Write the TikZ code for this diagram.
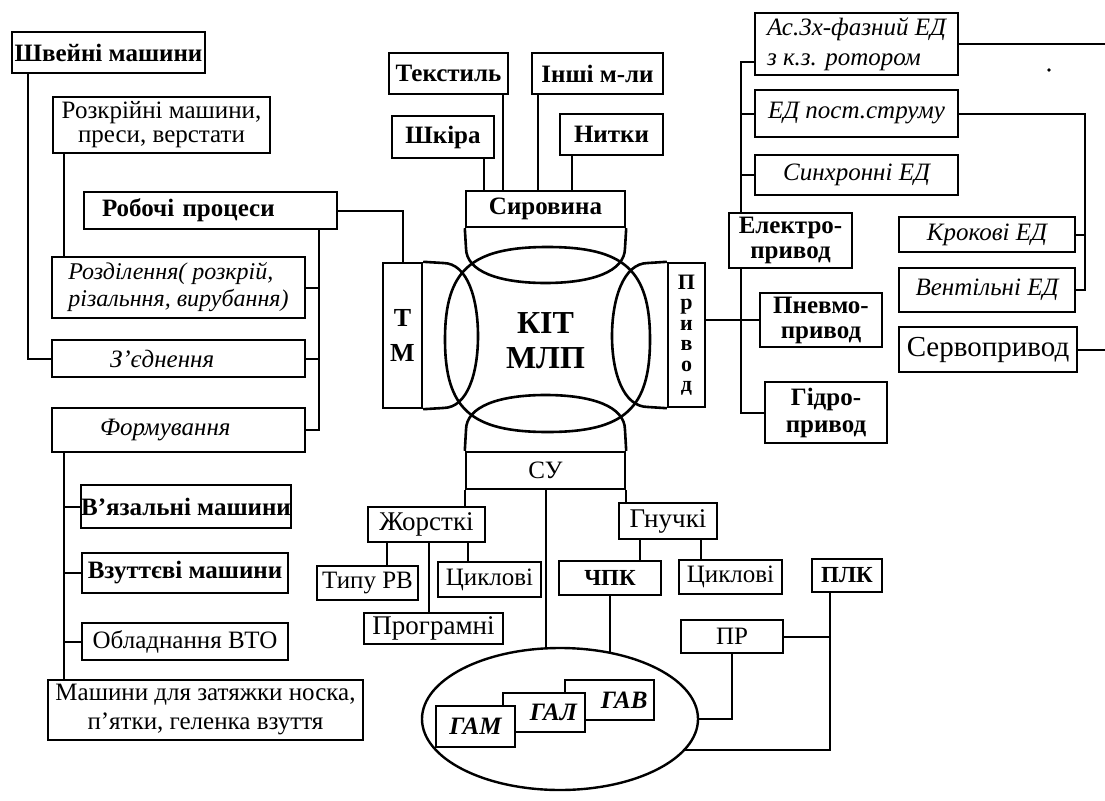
\documentclass[tikz,border=0pt]{standalone}
\usepackage{fontspec}
\setmainfont{Liberation Serif}
\usetikzlibrary{shapes.geometric}
\newcommand\fsz[1]{\fontsize{#1}{#1}\selectfont}

\begin{document}
\begin{tikzpicture}[x=1pt, y=-1pt, line width=2pt,
    box/.style={draw, line width=2.4pt, fill=white, inner sep=0pt, align=center},
    wh/.style 2 args={minimum width=#1pt, minimum height=#2pt},
    rbox/.style={box, font=\fsz{25}},
    bbox/.style={box, font=\fsz{25}\bfseries},
    ibox/.style={box, font=\fsz{25}\itshape},
    gbox/.style={box, font=\fsz{25}\bfseries\itshape}]
\useasboundingbox (0,0) rectangle (1105,800);

\node[bbox, wh={193}{41}] (shvei) at (108.5,52.5) {Швейні машини};
\node[rbox, wh={217}{56}, font=\fontsize{25}{24}\selectfont] (rozkr) at (161.5,125) {Розкрійні машини,\\преси, верстати};
\node[bbox, wh={253}{37}, text width=217pt, align=left] (robochi) at (210.5,210.5) {Робочі процеси};
\node[ibox, wh={253}{61}, align=left, font=\fontsize{24}{27}\selectfont\itshape] (rozdil) at (178.5,287.5) {Розділення( розкрій,\\різальння, вирубання)};
\node[ibox, wh={253}{37}, text width=137pt, align=left] (zyed) at (178.5,358.5) {З'єднення};
\node[ibox, wh={253}{44}, text width=157pt, align=left] (formuv) at (178.5,430) {Формування};
\node[bbox, wh={208}{43}] (vyaz) at (186,506.5) {В'язальні машини};
\node[bbox, wh={206}{40}] (vzut) at (185,573) {Взуттєві машини};
\node[rbox, wh={206}{37}] (vto) at (185,641.5) {Обладнання ВТО};
\node[rbox, wh={315}{60}, font=\fontsize{25}{29}\selectfont] (mash) at (205.5,710) {Машини для затяжки носка,\\п'ятки, геленка взуття};

\node[bbox, wh={119}{41}] (tekst) at (448.5,73.5) {Текстиль};
\node[bbox, wh={131}{41}] (inshi) at (597.5,73.5) {Інші м-ли};
\node[bbox, wh={102}{42}] (shkira) at (443,137) {Шкіра};
\node[bbox, wh={103}{41}] (nytky) at (611.5,134.5) {Нитки};
\node[bbox, wh={159}{36}] (syrov) at (545.5,209) {Сировина};

\node[bbox, wh={39}{145}, font=\fontsize{26}{35}\selectfont\bfseries] (tm) at (402.5,335.5) {Т\\М};
\node[bbox, wh={37}{144}, font=\fontsize{22}{20.5}\selectfont\bfseries] (pryvod) at (686.5,335) {П\\р\\и\\в\\о\\д};
\node[rbox, wh={159}{37}] (su) at (545.5,470.5) {СУ};
\node[font=\fontsize{32}{35}\selectfont\bfseries, align=center] (kit) at (545.5,341) {КІТ\\МЛП};

\node[ibox, wh={203}{62}, align=left, font=\fontsize{25}{30}\selectfont\itshape] (as3x) at (856.5,44) {Ас.3х-фазний ЕД\\з к.з. ротором};
\node[ibox, wh={203}{47}] (edpost) at (856.5,113.5) {ЕД пост.струму};
\node[ibox, wh={203}{40}] (synhr) at (856.5,175) {Синхронні ЕД};
\node[bbox, wh={123}{55}, font=\fontsize{25}{25}\selectfont\bfseries] (elektro) at (790.5,240.5) {Електро-\\привод};
\node[bbox, wh={122}{54}, font=\fontsize{25}{25}\selectfont\bfseries] (pnevmo) at (821,320) {Пневмо-\\привод};
\node[bbox, wh={122}{61}, font=\fontsize{25}{27}\selectfont\bfseries] (gidro) at (826,412.5) {Гідро-\\привод};
\node[ibox, wh={176}{35}] (krok) at (987,234.5) {Крокові ЕД};
\node[ibox, wh={176}{44}] (vent) at (987,290) {Вентільні ЕД};
\node[rbox, wh={178}{45}, font=\fsz{29}] (servo) at (988,349.5) {Сервопривод};

\node[rbox, wh={117}{35}, font=\fsz{27}] (zhorst) at (426.5,524.5) {Жорсткі};
\node[rbox, wh={98}{36}, font=\fsz{27}] (gnuch) at (668,521) {Гнучкі};
\node[rbox, wh={101}{34}] (typu) at (367.5,583) {Типу РВ};
\node[rbox, wh={103}{35}] (cykl1) at (489.5,579.5) {Циклові};
\node[rbox, wh={139}{31}, font=\fsz{27}] (prog) at (433.5,628.5) {Програмні};
\node[bbox, wh={102}{34}, font=\fsz{23}\bfseries] (chpk) at (610,578) {ЧПК};
\node[rbox, wh={103}{34}] (cykl2) at (730.5,577) {Циклові};
\node[bbox, wh={70}{33}, font=\fsz{23}\bfseries] (plk) at (847,575.5) {ПЛК};
\node[rbox, wh={102}{33}] (pr) at (732,636.5) {ПР};
\node[draw, ellipse, line width=2.4pt, wh={276}{142}] (gk) at (560,719) {};
\node[gbox, wh={89}{40}, text width=76pt, align=right] (gav) at (609.5,700) {ГАВ};
\node[gbox, wh={82}{39}, text width=66pt, align=right] (gal) at (544,712.5) {ГАЛ};
\node[gbox, wh={79}{41}] (gam) at (475.5,726.5) {ГАМ};

\begin{scope}[line width=2.6pt]
\draw (547.5,247) .. controls (470.5,247) and (445,270.5) .. (445,339.5) .. controls (445,408.5) and (470.5,432) .. (547.5,432) .. controls (624.5,432) and (650,408.5) .. (650,339.5) .. controls (650,270.5) and (624.5,247) .. (547.5,247) -- cycle;
\draw (syrov.south west) -- (466,248) .. controls (466,272) and (500,283) .. (545.5,283) .. controls (591,283) and (625,272) .. (625,248) -- (syrov.south east);
\draw (su.north west) -- (466,430) .. controls (466,406) and (500,395) .. (545.5,395) .. controls (591,395) and (625,406) .. (625,430) -- (su.north east);
\draw (tm.north east) -- (443,263) .. controls (468,263) and (478,300) .. (478,336) .. controls (478,372) and (468,408) .. (443,408) -- (tm.south east);
\draw (pryvod.north west) -- (648,263) .. controls (623,263) and (612,300) .. (612,336) .. controls (612,372) and (623,407) .. (648,407) -- (pryvod.south west);
\end{scope}

\draw (shvei.south west) ++(17,0) coordinate (w1) |- (zyed.west);
\draw (rozkr.south west) ++(12,0) coordinate (w2) -- (w2 |- rozdil.north);
\draw (robochi.south east) ++(-19,0) coordinate (w3) |- (formuv.east);
\foreach \n in {rozdil,zyed} \draw (\n.east) -- (\n.east -| w3);
\draw (formuv.south west) ++(13,0) coordinate (w4) -- (w4 |- mash.north);
\foreach \n in {vyaz,vzut,vto} \draw (\n.west) -- (\n.west -| w4);
\draw (robochi.east) -| (tm.north);

\draw (shkira.south east) ++(-11,0) coordinate (s1) -- (s1 |- syrov.north);
\draw (tekst.south east) ++(-6,0) coordinate (s2) -- (s2 |- syrov.north);
\draw (inshi.south west) ++(7,0) coordinate (s3) -- (s3 |- syrov.north);
\draw (nytky.south west) ++(13,0) coordinate (s4) -- (s4 |- syrov.north);

\draw (elektro.south west) ++(13,0) coordinate (e1) |- (gidro.west);
\draw (elektro.north west) ++(13,0) |- ([yshift=-18pt]as3x.west);
\foreach \n in {edpost,synhr} \draw (\n.west) -- (\n.west -| e1);
\draw (pryvod.east |- pnevmo.west) -- (pnevmo.west);
\draw (edpost.east) -- ++(126,0) coordinate (k1) |- (vent.east);
\draw (krok.east) -- (krok.east -| k1);
\coordinate (redge) at (1105,0);
\draw (as3x.east) -- (as3x.east -| redge);
\draw (servo.east) -- (servo.east -| redge);
\fill (1049,70) circle [radius=1.8pt];

\draw (su.south west) -- (su.south west |- zhorst.north);
\draw (su.south east) -- (su.south east |- gnuch.north);
\draw (su.south) -- (su.south |- gk.north);
\draw (zhorst.south west) ++(20,0) coordinate (z1) -- (z1 |- typu.north);
\draw (zhorst.south) ++(2.5,0) coordinate (z2) -- (z2 |- prog.north);
\draw (zhorst.south east) ++(-18,0) coordinate (z3) -- (z3 |- cykl1.north);
\draw (gnuch.south west) ++(22,0) coordinate (g1) -- (g1 |- chpk.north);
\draw (gnuch.south east) ++(-17,0) coordinate (g2) -- (g2 |- cykl2.north);
\draw (chpk.south) -- (chpk.south |- gk.53);
\draw (pr.south) |- (gk.east);
\draw (plk.south west) ++(19,0) coordinate (p1) |- (gk.-14);
\draw (pr.east) -- (pr.east -| p1);
\end{tikzpicture}
\end{document}
